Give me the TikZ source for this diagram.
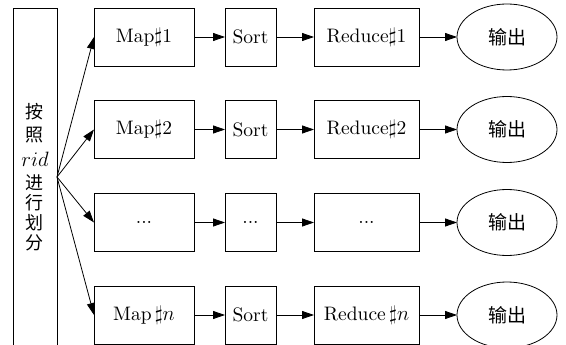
\documentclass[tikz,border=0pt]{standalone}
\usepackage{fontspec}
\newfontfamily\cjk{Noto Sans CJK SC}
\newfontfamily\lmten{lmroman10-regular.otf}
\usetikzlibrary{arrows.meta,shapes.geometric}
\begin{document}
\begin{tikzpicture}[x=1pt,y=-1pt,
  every node/.style={inner sep=0pt, outer sep=0pt},
  box/.style={draw, line width=0.8pt, minimum height=58pt, font=\lmten\fontsize{19.5}{19.5}\selectfont},
  mapbox/.style={box, minimum width=100pt},
  sortbox/.style={box, minimum width=51pt},
  redbox/.style={box, minimum width=105pt},
  outbox/.style={draw, line width=0.8pt, ellipse, minimum width=100pt, minimum height=66pt, font=\cjk\fontsize{19}{19}\selectfont},
  arr/.style={line width=0.8pt, -{Triangle[length=12pt,width=8pt]}},
  vtext/.style={font=\cjk\fontsize{18}{18}\selectfont}
]
\useasboundingbox (0,0) rectangle (566,345);
\clip (0,0) rectangle (566,345);
% left partition rectangle
\node[draw, line width=0.8pt, minimum width=44pt, minimum height=380pt, anchor=north west] (part) at (13,8) {};
\coordinate (fan) at (57,177);
\node[vtext] (t1) at (35,112) {按};
\node[vtext] (t2) at (35,135) {照};
\node[font=\fontsize{19.5}{19.5}\selectfont] (t3) at (35,159) {$rid$};
\node[vtext] (t4) at (35,183) {进};
\node[vtext] (t5) at (35,203) {行};
\node[vtext] (t6) at (35,223) {划};
\node[vtext] (t7) at (35,243) {分};
% rows
\foreach \i/\y/\m/\s/\r in {1/37/{Map$\sharp$1}/Sort/{Reduce$\sharp$1},
                           2/129.5/{Map$\sharp$2}/Sort/{Reduce$\sharp$2},
                           3/222.5/{...}/{...}/{...},
                           4/315/{Map\,$\sharp n$}/Sort/{Reduce\,$\sharp n$}} {
  \node[mapbox] (m\i) at (144,\y) {\m};
  \node[sortbox] (s\i) at (250.5,\y) {\s};
  \node[redbox] (r\i) at (366.5,\y) {\r};
  \node[outbox] (o\i) at (507,\y) {输出};
  \draw[arr] (m\i) -- (s\i);
  \draw[arr] (s\i) -- (r\i);
  \draw[arr] (r\i) -- (o\i);
  \draw[arr] (fan) -- (m\i.west);
}
\end{tikzpicture}
\end{document}
